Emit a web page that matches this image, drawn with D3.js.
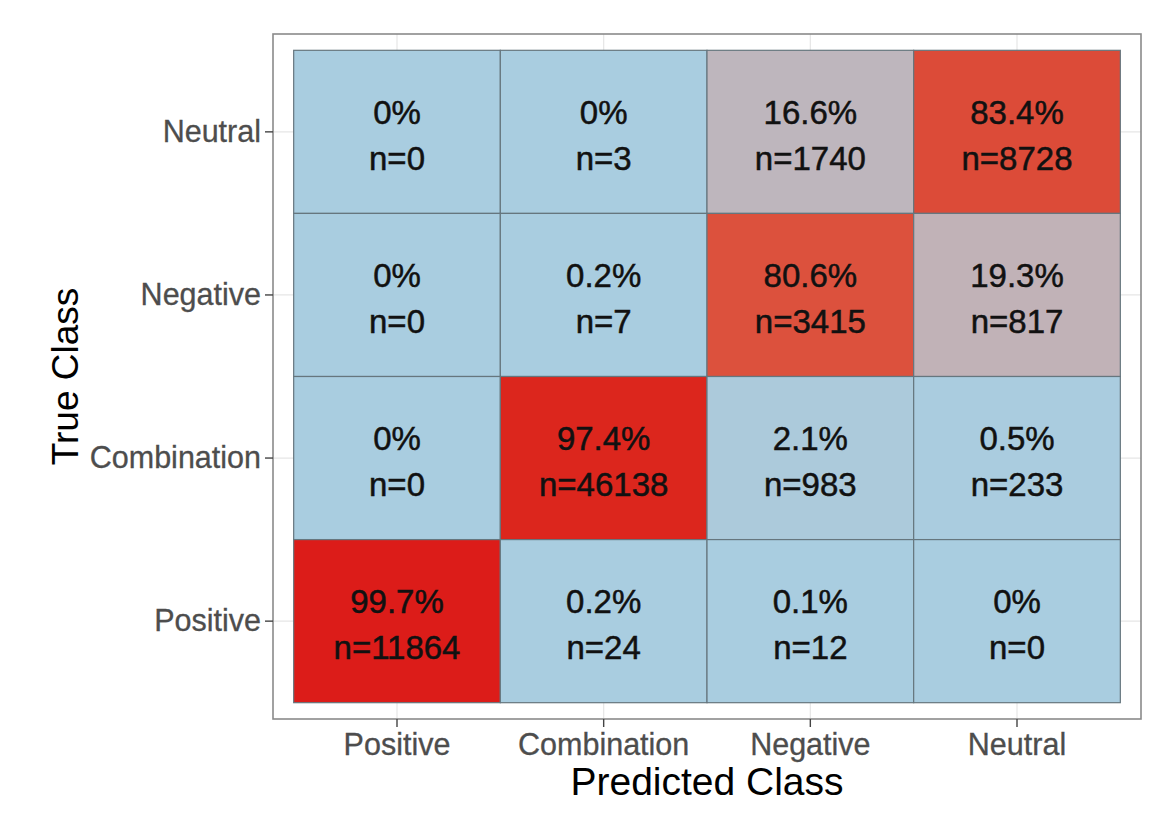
<!DOCTYPE html>
<html>
<head>
<meta charset="utf-8">
<script src="https://cdn.jsdelivr.net/npm/d3@7"></script>
<style>
  body { margin: 0; background: #fff; }
  text { font-family: "Liberation Sans", Arial, sans-serif; }
</style>
</head>
<body>
<svg id="chart" width="1158" height="822"></svg>
<script>
// classes, left to right on x and top to bottom on y
const predictedClasses = ["Positive", "Combination", "Negative", "Neutral"];
const trueClasses = ["Neutral", "Negative", "Combination", "Positive"];

// rows follow trueClasses, columns follow predictedClasses
const percents = [
  [0, 0, 16.6, 83.4],
  [0, 0.2, 80.6, 19.3],
  [0, 97.4, 2.1, 0.5],
  [99.7, 0.2, 0.1, 0]
];
const counts = [
  [0, 3, 1740, 8728],
  [0, 7, 3415, 817],
  [0, 46138, 983, 233],
  [11864, 24, 12, 0]
];

const cells = [];
trueClasses.forEach((t, i) => {
  predictedClasses.forEach((p, j) => {
    cells.push({ actual: t, predicted: p, pct: percents[i][j], n: counts[i][j] });
  });
});

const svg = d3.select("#chart");
const panel = { left: 273, right: 1141, top: 34, bottom: 719 };

const x = d3.scaleBand()
  .domain(predictedClasses)
  .range([panel.left, panel.right])
  .paddingInner(0)
  .paddingOuter(0.1);

const y = d3.scaleBand()
  .domain(trueClasses)
  .range([panel.top, panel.bottom])
  .paddingInner(0)
  .paddingOuter(0.1);

const fill = d3.scaleLinear()
  .domain([0, 100])
  .range(["#a9cde0", "#dc1a18"])
  .interpolate(d3.interpolateLab);

// grid lines at category centres
const grid = svg.append("g");
grid.selectAll("line.gx").data(predictedClasses).join("line")
  .attr("x1", d => x(d) + x.bandwidth() / 2)
  .attr("x2", d => x(d) + x.bandwidth() / 2)
  .attr("y1", panel.top).attr("y2", panel.bottom)
  .attr("stroke", "#e6e6e6").attr("stroke-width", 1.2);
grid.selectAll("line.gy").data(trueClasses).join("line")
  .attr("y1", d => y(d) + y.bandwidth() / 2)
  .attr("y2", d => y(d) + y.bandwidth() / 2)
  .attr("x1", panel.left).attr("x2", panel.right)
  .attr("stroke", "#e6e6e6").attr("stroke-width", 1.2);

// tiles
svg.append("g").selectAll("rect").data(cells).join("rect")
  .attr("x", d => x(d.predicted))
  .attr("y", d => y(d.actual))
  .attr("width", x.bandwidth())
  .attr("height", y.bandwidth())
  .attr("fill", d => fill(d.pct))
  .attr("stroke", "#66767e")
  .attr("stroke-width", 1.2);

// cell labels
const labels = svg.append("g").selectAll("g").data(cells).join("g")
  .attr("transform", d => `translate(${x(d.predicted) + x.bandwidth() / 2},${y(d.actual) + y.bandwidth() / 2})`);
labels.append("text")
  .attr("text-anchor", "middle")
  .attr("y", -8)
  .attr("font-size", 33)
  .attr("fill", "#111").attr("stroke", "#111").attr("stroke-width", 0.5)
  .text(d => `${d.pct}%`);
labels.append("text")
  .attr("text-anchor", "middle")
  .attr("y", 38)
  .attr("font-size", 33)
  .attr("fill", "#111").attr("stroke", "#111").attr("stroke-width", 0.5)
  .text(d => `n=${d.n}`);

// panel border
svg.append("rect")
  .attr("x", panel.left).attr("y", panel.top)
  .attr("width", panel.right - panel.left)
  .attr("height", panel.bottom - panel.top)
  .attr("fill", "none")
  .attr("stroke", "#8a8a8a")
  .attr("stroke-width", 1.6);

// axes
const xAxis = svg.append("g")
  .attr("transform", `translate(0,${panel.bottom})`)
  .call(d3.axisBottom(x).tickSize(8).tickPadding(6))
  .call(g => g.select(".domain").remove());
xAxis.selectAll(".tick line").attr("stroke", "#444").attr("stroke-width", 1.4);
xAxis.selectAll(".tick text")
  .attr("font-size", 30.5).attr("fill", "#4d4d4d")
  .attr("stroke", "#4d4d4d").attr("stroke-width", 0.3)
  .attr("font-family", "Liberation Sans, Arial, sans-serif");

const yAxis = svg.append("g")
  .attr("transform", `translate(${panel.left},0)`)
  .call(d3.axisLeft(y).tickSize(8).tickPadding(4))
  .call(g => g.select(".domain").remove());
yAxis.selectAll(".tick line").attr("stroke", "#444").attr("stroke-width", 1.4);
yAxis.selectAll(".tick text")
  .attr("font-size", 30.5).attr("fill", "#4d4d4d")
  .attr("stroke", "#4d4d4d").attr("stroke-width", 0.3)
  .attr("font-family", "Liberation Sans, Arial, sans-serif");

// axis titles
svg.append("text")
  .attr("x", (panel.left + panel.right) / 2)
  .attr("y", 795)
  .attr("text-anchor", "middle")
  .attr("font-size", 39)
  .attr("fill", "#000")
  .text("Predicted Class");

svg.append("text")
  .attr("transform", `translate(78,${(panel.top + panel.bottom) / 2}) rotate(-90)`)
  .attr("text-anchor", "middle")
  .attr("font-size", 37)
  .attr("fill", "#000")
  .text("True Class");
</script>
</body>
</html>
